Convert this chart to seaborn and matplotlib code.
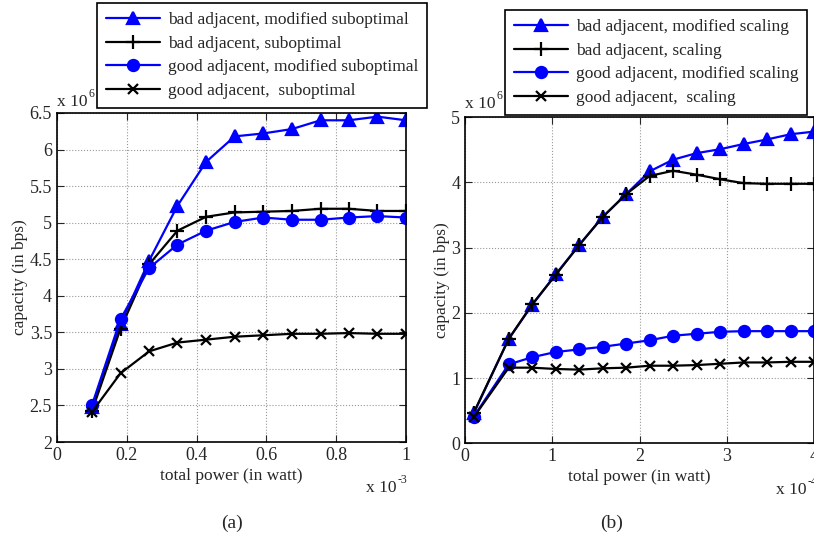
import numpy as np
import pandas as pd
import matplotlib
matplotlib.use("Agg")
import matplotlib.pyplot as plt
from matplotlib.ticker import FuncFormatter
import seaborn as sns

# -------------------------
# Data (a): capacity (x 10^6 bps) vs total power (x 10^-3 W)
# -------------------------
power_a = [0.1, 0.182, 0.264, 0.345, 0.427, 0.509, 0.591, 0.673, 0.755, 0.836, 0.918, 1.0]
bad_mod_subopt = [2.48, 3.62, 4.48, 5.23, 5.83, 6.18, 6.22, 6.28, 6.40, 6.40, 6.45, 6.40]
bad_subopt = [2.42, 3.55, 4.43, 4.89, 5.08, 5.14, 5.15, 5.16, 5.19, 5.19, 5.16, 5.16]
good_mod_subopt = [2.50, 3.68, 4.38, 4.70, 4.89, 5.01, 5.07, 5.04, 5.04, 5.07, 5.09, 5.07]
good_subopt = [2.41, 2.94, 3.24, 3.36, 3.40, 3.44, 3.46, 3.48, 3.48, 3.49, 3.48, 3.48]

# -------------------------
# Data (b): capacity (x 10^6 bps) vs total power (x 10^-4 W)
# -------------------------
power_b = [0.1, 0.5, 0.769, 1.038, 1.308, 1.577, 1.846, 2.115, 2.385, 2.654, 2.923, 3.192, 3.462, 3.731, 4.0]
bad_mod_scaling = [0.46, 1.60, 2.12, 2.59, 3.04, 3.47, 3.82, 4.17, 4.35, 4.45, 4.51, 4.59, 4.66, 4.74, 4.78]
bad_scaling = [0.47, 1.60, 2.13, 2.58, 3.04, 3.47, 3.82, 4.10, 4.18, 4.12, 4.05, 3.99, 3.98, 3.98, 3.98]
good_mod_scaling = [0.41, 1.21, 1.32, 1.40, 1.44, 1.48, 1.53, 1.58, 1.65, 1.68, 1.71, 1.72, 1.72, 1.72, 1.72]
good_scaling = [0.40, 1.16, 1.16, 1.14, 1.13, 1.15, 1.16, 1.19, 1.19, 1.20, 1.22, 1.24, 1.24, 1.25, 1.25]

labels_a = ["bad adjacent, modified suboptimal", "bad adjacent, suboptimal",
            "good adjacent, modified suboptimal", "good adjacent,  suboptimal"]
labels_b = ["bad adjacent, modified scaling", "bad adjacent, scaling",
            "good adjacent, modified scaling", "good adjacent,  scaling"]

# style per series: (color, marker, markersize)
styles = [("#0000ff", "^", 8), ("black", "+", 10), ("#0000ff", "o", 8), ("black", "x", 7)]

sns.set_style("ticks")
plt.rcParams["font.family"] = ["Liberation Serif", "DejaVu Serif"]
plt.rcParams["mathtext.fontset"] = "stix"

fig = plt.figure(figsize=(8.14, 5.38), dpi=100)
ax_a = fig.add_axes([0.070, 0.1784, 0.4288, 0.6116])
ax_b = fig.add_axes([0.5713, 0.176, 0.4287, 0.606])


def draw_panel(ax, x, series, labels):
    handles = []
    for ys, lab, (col, mk, ms) in zip(series, labels, styles):
        df = pd.DataFrame({"x": x, "y": ys})
        sns.lineplot(data=df, x="x", y="y", ax=ax, color=col, marker=mk,
                     markersize=ms, markeredgecolor=col, markeredgewidth=1.6,
                     linewidth=1.6, label=lab, legend=False)
        handles.append(ax.lines[-1])
    ax.grid(True, linestyle=":", color="#999999", linewidth=0.8)
    ax.tick_params(direction="in", top=True, right=True, length=5, labelsize=13)
    for sp in ax.spines.values():
        sp.set_visible(True)
        sp.set_color("black")
        sp.set_linewidth(1.2)
    ax.yaxis.set_major_formatter(FuncFormatter(lambda v, p: "%g" % v))
    ax.xaxis.set_major_formatter(FuncFormatter(lambda v, p: "%g" % v))
    ax.set_xlabel("total power (in watt)", fontsize=12.5, labelpad=3)
    ax.set_ylabel("capacity (in bps)", fontsize=12.5, labelpad=1)
    return handles


h_a = draw_panel(ax_a, power_a, [bad_mod_subopt, bad_subopt, good_mod_subopt, good_subopt], labels_a)
ax_a.set_xlim(0, 1)
ax_a.set_ylim(2, 6.5)
ax_a.set_xticks([0, 0.2, 0.4, 0.6, 0.8, 1])
ax_a.set_yticks(np.arange(2, 6.51, 0.5))

h_b = draw_panel(ax_b, power_b, [bad_mod_scaling, bad_scaling, good_mod_scaling, good_scaling], labels_b)
ax_b.set_xlim(0, 4)
ax_b.set_ylim(0, 5)
ax_b.set_xticks([0, 1, 2, 3, 4])
ax_b.set_yticks([0, 1, 2, 3, 4, 5])


# exponent labels (MATLAB style): "x 10" plus a small raised exponent
def exp_label(px, py, exp):
    t = fig.text(px / 814, 1 - py / 538, "x 10", fontsize=12.5, ha="left", va="baseline")
    fig.canvas.draw()
    bb = t.get_window_extent()
    fig.text(bb.x1 / 814 + 0.001, 1 - (py - 9) / 538, exp, fontsize=8.5,
             ha="left", va="baseline")


exp_label(57, 106, "6")
exp_label(465, 108, "6")
exp_label(366, 492, "-3")
exp_label(776, 494, "-4")

for handles, labels, anchor in [(h_a, labels_a, (97 / 814, 1 - 3 / 538)),
                                (h_b, labels_b, (505 / 814, 1 - 10 / 538))]:
    leg = fig.legend(handles, labels, loc="upper left", bbox_to_anchor=anchor,
                     fontsize=12.5, frameon=True, fancybox=False, framealpha=1,
                     handlelength=3.1, labelspacing=0.44, borderpad=0.5,
                     handletextpad=0.5, borderaxespad=0)
    leg.get_frame().set_edgecolor("black")
    leg.get_frame().set_linewidth(1.2)

fig.text(232 / 814, 1 - 528 / 538, "(a)", fontsize=14, ha="center", va="baseline")
fig.text(612 / 814, 1 - 528 / 538, "(b)", fontsize=14, ha="center", va="baseline")

fig.savefig("out.png", dpi=100)
plt.close(fig)
